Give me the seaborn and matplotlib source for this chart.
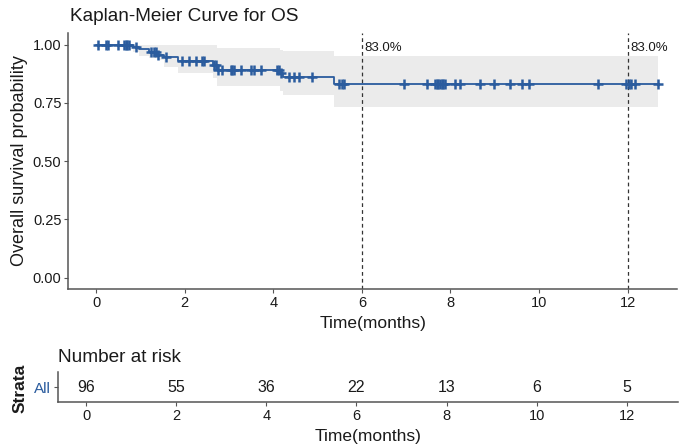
import numpy as np
import pandas as pd
import matplotlib
matplotlib.use("Agg")
import matplotlib.pyplot as plt
import seaborn as sns

# ---- data ----
step_times = [0.0, 0.83, 0.98, 1.20, 1.39, 1.54, 1.84, 2.63, 2.74, 4.15, 4.22, 5.37, 12.69]
step_surv  = [1.000, 0.990, 0.979, 0.968, 0.957, 0.946, 0.929, 0.912, 0.893, 0.877, 0.862, 0.830, 0.830]
step_upper = [1.000, 1.000, 1.000, 1.000, 1.000, 1.000, 1.000, 1.000, 0.986, 0.978, 0.971, 0.950, 0.950]
step_lower = [1.000, 0.969, 0.952, 0.943, 0.935, 0.902, 0.876, 0.856, 0.821, 0.800, 0.785, 0.733, 0.733]

censor_times = [0.04, 0.23, 0.26, 0.49, 0.64, 0.68, 0.71, 0.75, 0.90,
                1.24, 1.31, 1.35, 1.41, 1.58,
                1.95, 2.10, 2.25, 2.40, 2.44, 2.66, 2.70,
                2.76, 2.85, 3.04, 3.08, 3.12, 3.27, 3.49, 3.57, 3.72, 4.09, 4.13,
                4.18, 4.35, 4.47, 4.58, 4.88,
                5.48, 5.56, 5.60, 6.95, 7.47, 7.66, 7.70, 7.73, 7.77, 7.80, 7.84, 7.88,
                8.11, 8.22, 8.67, 8.99, 9.35, 9.61, 9.78, 11.34,
                11.97, 12.04, 12.08, 12.16, 12.69]

risk_times = [0, 2, 4, 6, 8, 10, 12]
risk_counts = [96, 55, 36, 22, 13, 6, 5]
landmark_times = [6, 12]
landmark_labels = ["83.0%", "83.0%"]

# ---- styling ----
sns.set_theme(style="white")
plt.rcParams['font.family'] = ['Liberation Sans', 'DejaVu Sans']
BLUE = "#2B5C9E"
TXT = "#1A1A1A"
SPINE = "#555555"

curve = pd.DataFrame({"time": step_times, "surv": step_surv})
cidx = np.searchsorted(np.array(step_times), np.array(censor_times), side="right") - 1
cens = pd.DataFrame({"time": censor_times, "surv": np.array(step_surv)[cidx]})

fig = plt.figure(figsize=(6.86, 4.48), dpi=100)
ax = fig.add_axes([0.0996, 0.3545, 0.888, 0.572])
ax2 = fig.add_axes([0.0843, 0.102, 0.9036, 0.0683])

xlim = (-0.625, 13.125)

# main KM panel
ax.fill_between(step_times, step_lower, step_upper, step="post",
                color="#D9D9D9", alpha=0.5, linewidth=0)
sns.lineplot(data=curve, x="time", y="surv", ax=ax, color=BLUE,
             drawstyle="steps-post", linewidth=1.3, estimator=None, sort=False)
sns.scatterplot(data=cens, x="time", y="surv", ax=ax, marker="+", color=BLUE,
                s=45, linewidth=1.8, zorder=4)
for t, lab in zip(landmark_times, landmark_labels):
    ax.axvline(t, color="#333333", linestyle=(0, (3, 2.5)), linewidth=0.9, zorder=1)
    ax.text(t + 0.06, 0.985, lab, ha="left", va="center", fontsize=9.5, color=TXT)

ax.set_xlim(*xlim)
ax.set_ylim(-0.05, 1.05)
ax.set_xticks(risk_times)
ax.set_yticks([0, 0.25, 0.5, 0.75, 1.0])
ax.set_yticklabels(["0.00", "0.25", "0.50", "0.75", "1.00"])
ax.set_xlabel("")
ax.set_ylabel("")
for s in ["top", "right"]:
    ax.spines[s].set_visible(False)
for s in ["left", "bottom"]:
    ax.spines[s].set_color(SPINE)
    ax.spines[s].set_linewidth(1.1)
ax.tick_params(axis="both", length=3, width=0.8, color=SPINE, labelsize=10.5,
               labelcolor=TXT, pad=2, left=True, bottom=True)

# risk table panel
for t, n in zip(risk_times, risk_counts):
    ax2.text(t, 1, str(n), ha="center", va="center", fontsize=11.5, color=TXT)
ax2.set_xlim(*xlim)
ax2.set_ylim(0.5, 1.5)
ax2.set_xticks(risk_times)
ax2.set_yticks([1])
ax2.set_yticklabels(["All"])
for s in ["top", "right"]:
    ax2.spines[s].set_visible(False)
for s in ["left", "bottom"]:
    ax2.spines[s].set_color(SPINE)
    ax2.spines[s].set_linewidth(1.1)
ax2.tick_params(axis="both", length=3, width=0.8, color=SPINE, labelsize=10.5,
                labelcolor=TXT, pad=2, left=True, bottom=True)
ax2.tick_params(axis="y", labelsize=11)
ax2.get_yticklabels()[0].set_color(BLUE)

# texts
fig.text(70 / 686, 1 - 21 / 448, "Kaplan-Meier Curve for OS", fontsize=13.7,
         color=TXT, va="baseline", ha="left")
fig.text(20 / 686, 1 - 161 / 448, "Overall survival probability", rotation=90,
         fontsize=13, color=TXT, va="center", ha="center")
fig.text(373 / 686, 1 - 323 / 448, "Time(months)", fontsize=12.5, color=TXT,
         va="center", ha="center")
fig.text(58 / 686, 1 - 362 / 448, "Number at risk", fontsize=13.7, color=TXT,
         va="baseline", ha="left")
fig.text(20 / 686, 1 - 388 / 448, "Strata", rotation=90, fontsize=12.5,
         fontweight="bold", color=TXT, va="center", ha="center")
fig.text(368 / 686, 1 - 436.5 / 448, "Time(months)", fontsize=12.5, color=TXT,
         va="center", ha="center")

fig.savefig("out.png", dpi=100)
